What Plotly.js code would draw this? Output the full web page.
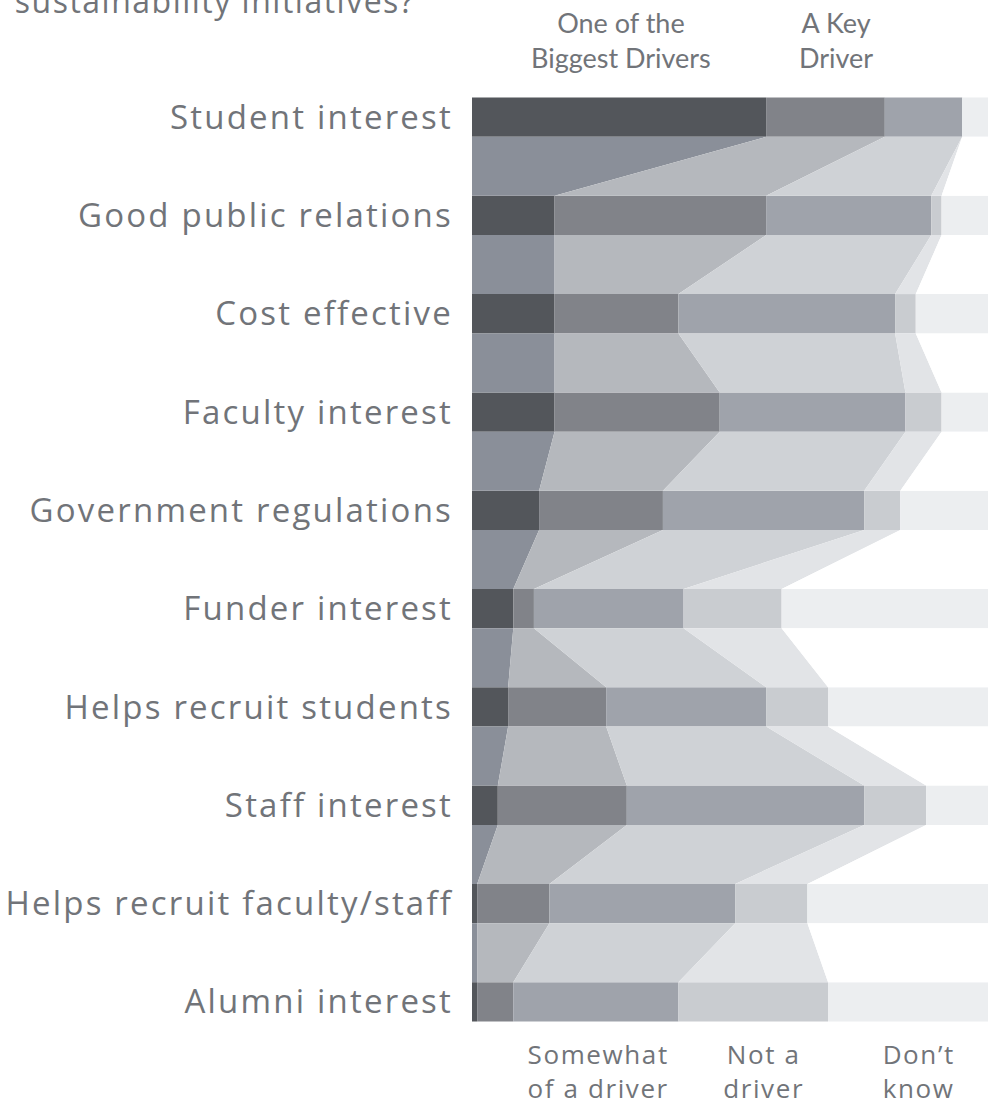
<!DOCTYPE html>
<html>
<head>
<meta charset="utf-8">
<script src="https://cdn.plot.ly/plotly-3.0.1.min.js"></script>
<style>
html,body{margin:0;padding:0;background:#fff;}
#chart{width:988px;height:1109px;}
#chart .yaxislayer-above text{letter-spacing:2.2px;}
#chart .annotation[data-index="0"] text{letter-spacing:1.5px;}
#chart .annotation[data-index="3"] text,
#chart .annotation[data-index="4"] text,
#chart .annotation[data-index="5"] text{letter-spacing:1.6px;}
</style>
</head>
<body>
<div id="chart"></div>
<script>
// ---- data (percent of respondents) ----
const categories = ["Student interest","Good public relations","Cost effective","Faculty interest","Government regulations","Funder interest","Helps recruit students","Staff interest","Helps recruit faculty/staff","Alumni interest"];
const biggestDriver = [57,16,16,16,13,8,7,5,1,1];
const keyDriver     = [23,41,24,32,24,4,19,25,14,7];
const somewhat      = [15,32,42,36,39,29,31,46,36,32];
const notDriver     = [0,2,4,7,7,19,12,12,14,29];
const dontKnow      = [5,9,14,9,17,40,31,12,35,31];

const seriesNames = ["One of the Biggest Drivers","A Key Driver","Somewhat of a driver","Not a driver","Don’t know"];
const seriesVals = [biggestDriver,keyDriver,somewhat,notDriver,dontKnow];
const barColors  = ["#53565b","#818389","#9fa3ab","#c9ccd0","#eceef0"];
const bandColors = ["#8a8f99","#b5b8bd","#cfd2d6","#e2e4e7","#ffffff"];

const BAR_H = 0.4;
const yIdx = categories.map((c,i)=>i);

// cumulative starts/ends
const starts = [], ends = [];
seriesVals.forEach((vals,s)=>{
  starts.push(vals.map((v,i)=> seriesVals.slice(0,s).reduce((a,arr)=>a+arr[i],0)));
  ends.push(vals.map((v,i)=> starts[s][i]+v));
});

const traces = [];
// connecting bands
seriesVals.forEach((vals,s)=>{
  const xs=[], ys=[];
  for(let i=0;i<categories.length-1;i++){
    const y0=i+BAR_H/2, y1=i+1-BAR_H/2;
    xs.push(starts[s][i],ends[s][i],ends[s][i+1],starts[s][i+1],starts[s][i],null);
    ys.push(y0,y0,y1,y1,y0,null);
  }
  traces.push({type:'scatter',mode:'lines',x:xs,y:ys,fill:'toself',fillcolor:bandColors[s],
    line:{width:0,color:bandColors[s]},hoverinfo:'skip',showlegend:false});
});
// bars
seriesVals.forEach((vals,s)=>{
  traces.push({type:'bar',orientation:'h',name:seriesNames[s],x:vals,y:yIdx,base:starts[s],
    width:BAR_H,marker:{color:barColors[s],line:{width:0}},showlegend:false});
});

const txt = "#717479";
const fnt = "'Open Sans', Lato, sans-serif";
const fntHead = "Lato, 'Open Sans', sans-serif";
const plotTop=68, plotBot=1051, plotH=plotBot-plotTop;
const py = p => (plotBot-p)/plotH;
const px = p => (p-472)/516;

const layout = {
  width:988,height:1109,
  margin:{l:472,r:0,t:plotTop,b:1109-plotBot,pad:0},
  paper_bgcolor:'#fff',plot_bgcolor:'#fff',
  barmode:'overlay',
  showlegend:false,
  font:{family:fnt,color:txt},
  xaxis:{range:[0,100],visible:false,fixedrange:true},
  yaxis:{range:[9.5,-0.5],tickvals:yIdx,ticktext:categories,showgrid:false,zeroline:false,
    showline:false,ticks:'',ticklabelstandoff:18,tickfont:{size:33,color:txt,family:fnt}},
  annotations:[
    {text:"sustainability initiatives?",xref:'paper',yref:'paper',x:px(215),y:py(0),xanchor:'center',yanchor:'middle',showarrow:false,font:{size:32,color:txt,family:fnt}},
    {text:"One of the<br>Biggest Drivers",xref:'paper',yref:'paper',x:px(621),y:py(40),xanchor:'center',yanchor:'middle',showarrow:false,font:{size:27,color:txt,family:fntHead}},
    {text:"A Key<br>Driver",xref:'paper',yref:'paper',x:px(836),y:py(40),xanchor:'center',yanchor:'middle',showarrow:false,font:{size:27,color:txt,family:fntHead}},
    {text:"Somewhat<br>of a driver",xref:'paper',yref:'paper',x:px(598),y:py(1071),xanchor:'center',yanchor:'middle',showarrow:false,font:{size:26,color:txt,family:fnt}},
    {text:"Not a<br>driver",xref:'paper',yref:'paper',x:px(764),y:py(1071),xanchor:'center',yanchor:'middle',showarrow:false,font:{size:26,color:txt,family:fnt}},
    {text:"Don’t<br>know",xref:'paper',yref:'paper',x:px(918),y:py(1071),xanchor:'center',yanchor:'middle',showarrow:false,font:{size:26,color:txt,family:fnt}}
  ]
};
Plotly.newPlot('chart',traces,layout,{displayModeBar:false,staticPlot:true});
</script>
</body>
</html>
